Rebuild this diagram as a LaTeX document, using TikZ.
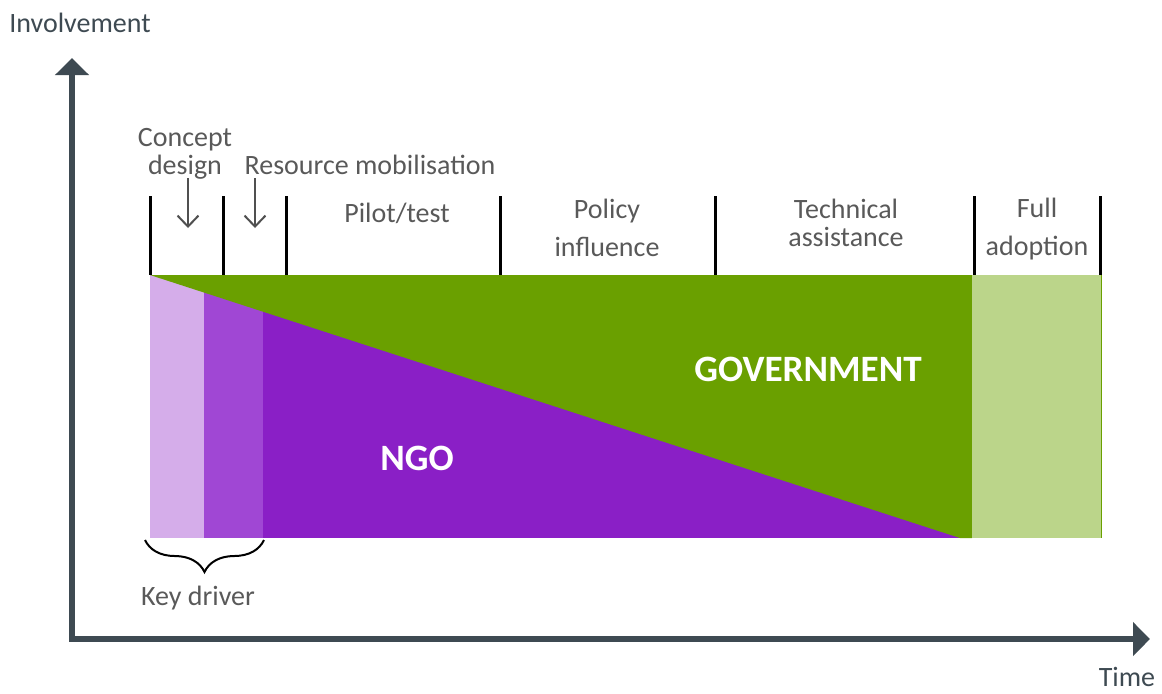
\documentclass[tikz,border=0pt]{standalone}
\usepackage{fontspec}
\setmainfont{Carlito}
\usetikzlibrary{arrows.meta,positioning,decorations.pathreplacing}
\definecolor{axisgrey}{HTML}{3E4A52}
\definecolor{textgrey}{HTML}{595959}
\definecolor{govgreen}{HTML}{6AA000}
\definecolor{adoptgreen}{HTML}{BBD58A}
\definecolor{ngopurple}{HTML}{8A1FC6}
\definecolor{midpurple}{HTML}{A047D4}
\definecolor{lightpurple}{HTML}{D5ADEA}

\begin{document}
\begin{tikzpicture}[x=0.5pt,y=-0.5pt]

      \tikzstyle{phase}=[text=textgrey,align=center,inner sep=0pt,font=\fontsize{14}{14}\selectfont]
      \tikzstyle{wide}=[font=\fontsize{14}{19}\selectfont]
      \tikzstyle{actor}=[text=white,inner sep=0pt,font=\fontsize{18.6}{20}\selectfont\bfseries]
      \tikzstyle{tick}=[line width=1.5pt,black]
      \tikzstyle{pointer}=[line width=1pt,textgrey!90!black,-{Straight Barb[width=10.5pt,length=5.5pt]}]
      \tikzstyle{axis}=[line width=3pt,axisgrey,line join=miter,{Triangle[width=16.5pt,length=8.5pt]}-{Triangle[width=16.5pt,length=8.5pt]}]

      \useasboundingbox (0,0) rectangle (1162,693);

      % bands
      \fill[lightpurple] (150,275) rectangle (204,538);
      \fill[midpurple] (204,275) rectangle (263,538);
      \fill[ngopurple] (263,275) rectangle (972,538);
      \fill[govgreen] (150,275) -- (972,275) -- (972,538) -- (960,538) -- cycle;
      \fill[adoptgreen] (972,275) rectangle (1101,538);
      \draw[govgreen,line width=0.5pt] (1101,275) -- (1101,538);

      \foreach \x in {150,223,286,500,715,974,1100}
        \draw[tick] (\x,196) -- (\x,275);

      % axes
      \coordinate (Y) at (72,58);
      \coordinate (O) at (72,639);
      \coordinate (X) at (1150,639);
      \draw[axis] (Y) -- (O) -- (X);

      \node[text=axisgrey,inner sep=0pt,font=\fontsize{14}{14}\selectfont] (A) at (80,23) {Involvement};
      \node[text=axisgrey,inner sep=0pt,font=\fontsize{14}{14}\selectfont] (B) at (1127,677) {Time};

      \node[phase] (C) at (185,154) {Concept\\design};
      \node[phase] (D) at (370,165) {Resource mobilisation};
      \node[phase] (E) at (397,213) {Pilot/test};
      \node[phase,wide] (F) at (607,228) {Policy\\influence};
      \node[phase] (G) at (846,223) {Technical\\assistance};
      \node[phase,wide] (H) at (1037,229) {Full\\adoption};

      \node[actor] (I) at (808,369) {GOVERNMENT};
      \node[actor] (J) at (417,458) {NGO};

      \coordinate (K1) at (188,178);
      \coordinate (K2) at (188,228);
      \coordinate (L1) at (255,178);
      \coordinate (L2) at (255,228);
      \draw[pointer] (K1) -- (K2);
      \draw[pointer] (L1) -- (L2);

      % key driver brace
      \coordinate (M1) at (264,540);
      \coordinate (M2) at (145,540);
      \draw[line width=1pt,decorate,decoration={brace,amplitude=16pt}] (M1) -- (M2);
      \node[phase] (N) at (198,598) {Key driver};

\end{tikzpicture}
\end{document}
